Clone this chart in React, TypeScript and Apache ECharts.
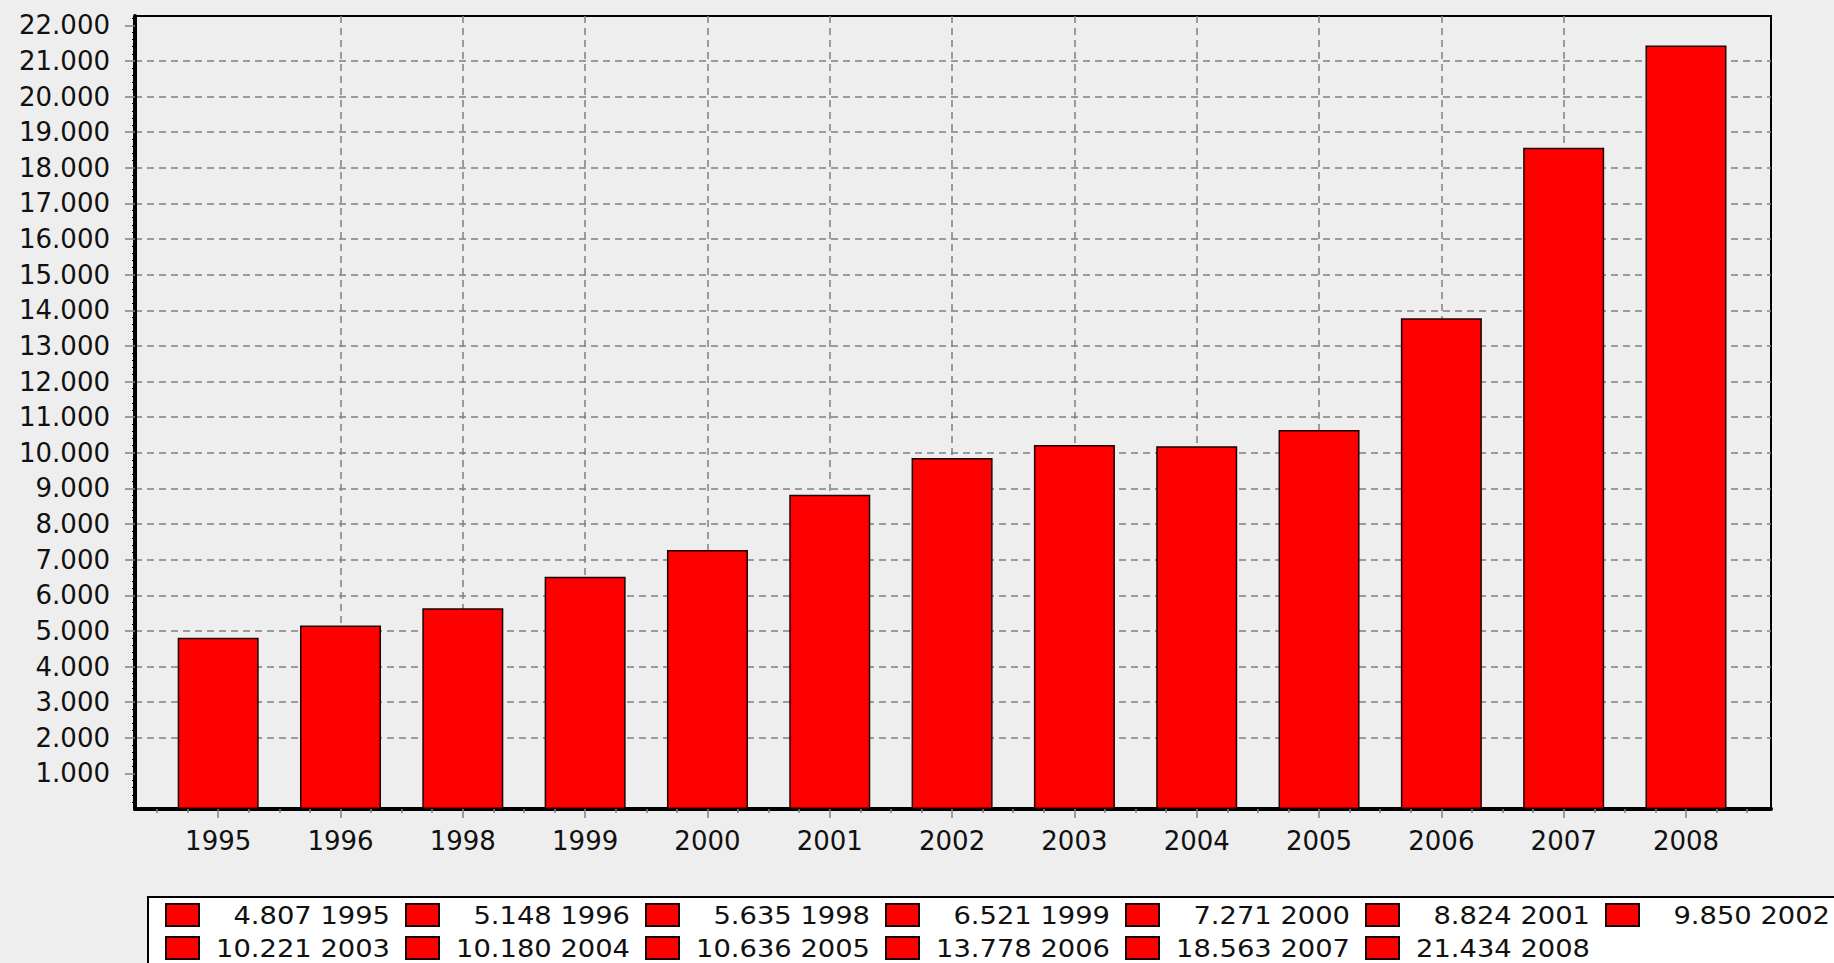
import React, { useEffect, useRef } from "react";
import * as echarts from "echarts";

const years = ["1995", "1996", "1998", "1999", "2000", "2001", "2002", "2003", "2004", "2005", "2006", "2007", "2008"];
const values = [4807, 5148, 5635, 6521, 7271, 8824, 9850, 10221, 10180, 10636, 13778, 18563, 21434];
const yTickValues = [1000, 2000, 3000, 4000, 5000, 6000, 7000, 8000, 9000, 10000, 11000, 12000, 13000, 14000, 15000, 16000, 17000, 18000, 19000, 20000, 21000, 22000];

const FONT = "DejaVu Sans";
const TEXT = "#111111";
const GRIDC = "#808080";

function fmt(v: number): string {
  const k = Math.floor(v / 1000);
  const r = Math.round(v - k * 1000);
  return k + "." + String(r).padStart(3, "0");
}

export default function App() {
  const ref = useRef<HTMLDivElement>(null);
  useEffect(() => {
    if (!ref.current) return;
    const chart = echarts.init(ref.current, null, { renderer: "svg" });
    const n = years.length;
    const majorX = years.map((_, i) => i);
    const minorX: number[] = [];
    for (let q = -2; q <= (n - 1) * 4 + 2; q++) {
      if (q % 4 !== 0) minorX.push(q / 4);
    }
    const xMin = -0.68;
    const xMax = 12.695;

    const legend: any[] = [
      {
        type: "rect",
        shape: { x: 148, y: 897, width: 1800, height: 120 },
        style: { fill: "#ffffff", stroke: "#000000", lineWidth: 2 },
        silent: true,
      },
    ];
    values.forEach((v, i) => {
      const col = i % 7;
      const row = Math.floor(i / 7);
      const sx = 166 + col * 240;
      const sy = 904 + row * 33;
      legend.push({
        type: "rect",
        shape: { x: sx, y: sy, width: 33, height: 22 },
        style: { fill: "#ff0000", stroke: "#1a0000", lineWidth: 2 },
        silent: true,
      });
      legend.push({
        type: "text",
        x: sx + 224,
        y: sy + 12,
        scaleX: 1.14,
        style: {
          text: fmt(v) + " " + years[i],
          align: "right",
          verticalAlign: "middle",
          fontFamily: FONT,
          fontSize: 24,
          fill: TEXT,
        },
        silent: true,
      });
    });

    const option: any = {
      animation: false,
      backgroundColor: "#eeeeee",
      grid: {
        left: 135,
        top: 16,
        right: 63,
        bottom: 154,
        show: true,
        borderColor: "#000000",
        borderWidth: 2,
        backgroundColor: "transparent",
        containLabel: false,
      },
      xAxis: [
        {
          type: "value",
          position: "bottom",
          min: xMin,
          max: xMax,
          minInterval: 1,
          maxInterval: 1,
          splitNumber: 13,
          axisLine: { show: true, onZero: false, lineStyle: { color: "#000000", width: 4 } },
          axisTick: { show: true, length: 9, customValues: majorX, lineStyle: { color: GRIDC, width: 1.5 } },
          axisLabel: {
            show: true,
            margin: 19,
            customValues: majorX,
            color: TEXT,
            fontFamily: FONT,
            fontSize: 26,
            formatter: (v: number) => {
              const r = Math.round(v);
              return Math.abs(v - r) < 1e-6 && years[r] ? years[r] : "";
            },
          },
          splitLine: {
            show: true,
            showMinLine: false,
            showMaxLine: false,
            lineStyle: { color: GRIDC, type: [7, 5], width: 1.5 },
          },
        },
        {
          type: "value",
          position: "top",
          offset: -793,
          min: xMin,
          max: xMax,
          minInterval: 0.25,
          maxInterval: 0.25,
          axisLine: { show: false },
          axisTick: { show: true, inside: true, length: 4, customValues: minorX, lineStyle: { color: GRIDC, width: 1.5 } },
          axisLabel: { show: false },
          splitLine: { show: false },
        },
      ],
      yAxis: {
        type: "value",
        min: 0,
        max: 22260,
        interval: 1000,
        axisLine: { show: true, onZero: false, lineStyle: { color: "#000000", width: 4 } },
        axisTick: { show: true, length: 10, customValues: yTickValues, lineStyle: { color: GRIDC, width: 1.5 } },
        minorTick: { show: true, splitNumber: 5, length: 3, lineStyle: { color: "#000000", width: 1 } },
        axisLabel: {
          show: true,
          margin: 25,
          customValues: yTickValues,
          color: TEXT,
          fontFamily: FONT,
          fontSize: 26,
          formatter: (v: number) => (v <= 0 || v > 22000 ? "" : fmt(v)),
        },
        splitLine: {
          show: true,
          showMinLine: false,
          showMaxLine: false,
          lineStyle: { color: GRIDC, type: [7, 5], width: 1.5 },
        },
      },
      series: [
        {
          type: "bar",
          xAxisIndex: 0,
          yAxisIndex: 0,
          data: values.map((v, i) => [i, v]),
          barWidth: 81,
          itemStyle: { color: "#ff0000", borderColor: "#1a0000", borderWidth: 1.5 },
        },
      ],
      graphic: legend,
    };
    chart.setOption(option);
    return () => chart.dispose();
  }, []);
  return (
    <div
      ref={ref}
      style={{ position: "fixed", left: 0, top: 0, width: 1834, height: 963 }}
    />
  );
}
